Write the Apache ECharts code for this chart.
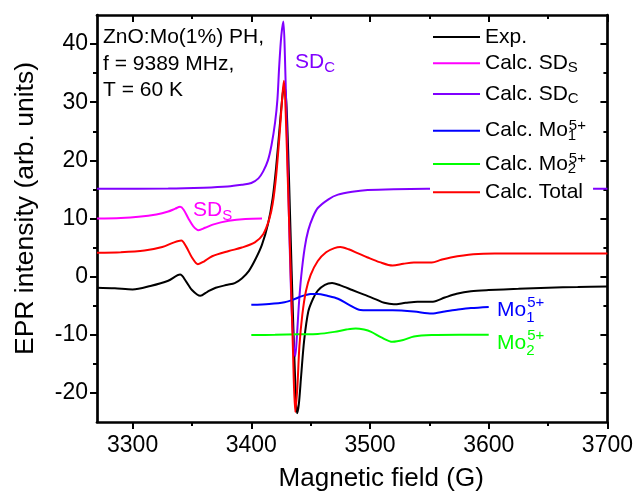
<!DOCTYPE html>
<html>
<head>
<meta charset="utf-8">
<script src="https://cdn.jsdelivr.net/npm/echarts@6/dist/echarts.min.js"></script>
<style>
html, body { margin: 0; padding: 0; background: #fff; }
#chart { width: 636px; height: 497px; }
</style>
</head>
<body>
<div id="chart"></div>
<script>
// Magnetic field (G) / intensity (arb. units)
const expField = [3270, 3285, 3300, 3315, 3330, 3340, 3345, 3350, 3357, 3363, 3370, 3380, 3386, 3392, 3398,
  3404, 3409, 3414, 3418, 3421, 3424, 3426.5, 3428, 3429.5, 3431, 3433, 3435, 3437, 3438.5, 3440, 3442,
  3444.5, 3448, 3452, 3456, 3462, 3468, 3475, 3485, 3495, 3505, 3512, 3520, 3530, 3540, 3553, 3563, 3573,
  3585, 3600, 3625, 3650, 3675, 3700]
const expValue = [-1.9, -2.0, -2.2, -1.6, -0.7, 0.35, -0.8, -2.3, -3.3, -2.6, -1.9, -1.4, -1.1, -0.3, 1.0,
  3.2, 5.5, 9.0, 13.5, 19, 26, 31.5, 32.8, 30, 22, 8, -6, -18, -23.5, -22, -17,
  -11, -6, -3.8, -2.4, -1.4, -1.1, -1.5, -2.3, -3.1, -3.9, -4.5, -4.75, -4.5, -4.3, -4.3, -3.6, -2.95,
  -2.5, -2.3, -2.1, -1.9, -1.8, -1.7]

const sdsField = [3270, 3290, 3305, 3320, 3330, 3336, 3340, 3343, 3347, 3351, 3355.5, 3361, 3367.5, 3381, 3395, 3409]
const sdsValue = [10.0, 10.1, 10.3, 10.7, 11.2, 11.7, 12.0, 11.5, 10.0, 8.7, 8.0, 8.4, 8.95, 9.6, 9.93, 10.0]

const sdcField = [3270, 3330, 3360, 3380, 3392, 3400, 3406, 3410, 3414, 3417, 3420, 3422, 3423.5, 3425.3,
  3427, 3428.3, 3429.8, 3431.5, 3433.2, 3435, 3437, 3438.5, 3440, 3442, 3445, 3448, 3452, 3456, 3465,
  3473, 3485, 3498, 3520, 3548, 3600, 3650, 3700]
const sdcValue = [15.1, 15.15, 15.3, 15.5, 15.8, 16.1, 16.9, 18.1, 20, 22.6, 26.5, 30.5, 36.2, 41.5,
  43.9, 38, 26, 12, -1, -10, -13.7, -10, -5, 0, 5, 8, 10.3, 11.8, 13.3,
  14.1, 14.6, 14.9, 15.05, 15.1, 15.1, 15.1, 15.1]

const mo1Field = [3400, 3415, 3428, 3436, 3442, 3450, 3456, 3464, 3473, 3482, 3492, 3505, 3519, 3537, 3552,
  3563, 3573, 3585, 3600]
const mo1Value = [-4.85, -4.7, -4.4, -3.9, -3.4, -3.0, -2.97, -3.3, -3.8, -4.8, -5.75, -5.8, -5.8, -6.0, -6.35,
  -6.0, -5.7, -5.4, -5.2]

const mo2Field = [3400, 3420, 3440, 3456, 3470, 3480, 3488, 3495, 3501, 3510, 3519, 3528, 3537, 3552, 3575, 3600]
const mo2Value = [-10.05, -10.0, -9.9, -9.85, -9.5, -9.1, -8.9, -9.1, -9.5, -10.5, -11.2, -10.9, -10.3, -10.05,
  -10.0, -10.0]

const totField = [3270, 3290, 3310, 3325, 3335, 3341, 3345, 3350, 3355, 3360, 3367, 3381, 3392, 3403, 3410,
  3415, 3418, 3421, 3424, 3426.3, 3427.5, 3429, 3431, 3433, 3435, 3437, 3438.8, 3440.5, 3443, 3446,
  3450, 3456, 3463, 3470, 3475, 3482, 3490, 3498, 3508, 3519, 3528, 3537, 3552, 3560, 3568, 3587,
  3605, 3625, 3700]
const totValue = [4.1, 4.2, 4.5, 5.1, 5.9, 6.2, 5.2, 3.3, 2.15, 2.6, 3.5, 4.4, 5.0, 5.9, 7.3,
  9.8, 12.5, 17.5, 25, 31.5, 33.7, 28, 15, 2, -12, -23.3, -19, -12, -6.5, -2.5,
  0.3, 2.7, 4.2, 4.9, 5.1, 4.7, 4.0, 3.3, 2.5, 1.9, 2.2, 2.45, 2.45, 2.9, 3.3, 3.85,
  4.0, 4.0, 4.0]

const xTicks = [3300, 3400, 3500, 3600, 3700]
const xMinorTicks = [3350, 3450, 3550, 3650]
const yTicks = [-20, -10, 0, 10, 20, 30, 40]
const yMinorTicks = [-15, -5, 5, 15, 25, 35]

const infoLines = ['ZnO:Mo(1%) PH,', 'f = 9389 MHz,', 'T = 60 K']

const FONT = '"Liberation Sans", Arial, sans-serif'
const C = {
  exp: '#000000',
  sds: '#ff00ff',
  sdc: '#8000ff',
  mo1: '#0000ff',
  mo2: '#00ff00',
  tot: '#ff0000',
}

const zip = (xs, ys) => xs.map((x, i) => [x, ys[i]])

const seriesDefs = [
  { name: 'Exp.', label: '{m|Exp.}', color: C.exp, data: zip(expField, expValue) },
  { name: 'Calc. SDS', label: '{m|Calc. SD}{sb|S}', color: C.sds, data: zip(sdsField, sdsValue) },
  { name: 'Calc. SDC', label: '{m|Calc. SD}{sb|C}', color: C.sdc, data: zip(sdcField, sdcValue) },
  { name: 'Calc. Mo1', label: '{m|Calc. Mo}{sz|1}{sp|5+}', color: C.mo1, data: zip(mo1Field, mo1Value) },
  { name: 'Calc. Mo2', label: '{m|Calc. Mo}{sz|2}{sp|5+}', color: C.mo2, data: zip(mo2Field, mo2Value) },
  { name: 'Calc. Total', label: '{m|Calc. Total}', color: C.tot, data: zip(totField, totValue) },
]
// one legend per row so the rows sit where they do in the figure
const legendRows = [39, 65.3, 96, 130.7, 164, 194.3]

const legendRich = {
  m: { fontSize: 21, lineHeight: 25, fontFamily: FONT, color: '#000' },
  sb: { fontSize: 15, lineHeight: 14, verticalAlign: 'bottom', fontFamily: FONT, color: '#000' },
  sz: { fontSize: 15, lineHeight: 14, verticalAlign: 'bottom', width: 1, fontFamily: FONT, color: '#000' },
  sp: { fontSize: 15, lineHeight: 14, verticalAlign: 'top', fontFamily: FONT, color: '#000' },
}

function labelRich(color, lh) {
  return {
    m: { fontSize: 21, lineHeight: lh, fontFamily: FONT, fill: color },
    sb: { fontSize: 15, lineHeight: 14, verticalAlign: 'bottom', fontFamily: FONT, fill: color },
    sz: { fontSize: 15, lineHeight: 14, verticalAlign: 'bottom', width: 1, fontFamily: FONT, fill: color },
    sp: { fontSize: 15, lineHeight: 14, verticalAlign: 'top', fontFamily: FONT, fill: color },
  }
}

const frame = { lineStyle: { color: '#000', width: 2.7 } }
const tickStyle = { color: '#000', width: 2 }

// major and minor ticks live on separate overlaid axes (different lengths)
function xAxisDef(position, ticks, len, inside, withLine, withLabels) {
  return {
    type: 'value', position, min: 3270, max: 3700,
    axisLine: { show: withLine, onZero: false, ...frame },
    axisTick: { show: true, inside, length: len, customValues: ticks, lineStyle: tickStyle },
    axisLabel: withLabels
      ? { show: true, customValues: ticks, formatter: (v) => String(v), fontSize: 23, color: '#000', fontFamily: FONT, margin: 12 }
      : { show: false },
    splitLine: { show: false },
  }
}
function yAxisDef(position, ticks, len, inside, withLine, withLabels) {
  return {
    type: 'value', position, min: -25, max: 45,
    axisLine: { show: withLine, onZero: false, ...frame },
    axisTick: { show: true, inside, length: len, customValues: ticks, lineStyle: tickStyle },
    axisLabel: withLabels
      ? { show: true, customValues: ticks, formatter: (v) => String(v), fontSize: 23, color: '#000', fontFamily: FONT, margin: 9 }
      : { show: false },
    splitLine: { show: false },
  }
}

const xMain = xAxisDef('bottom', xTicks, 7, false, true, true)
xMain.name = 'Magnetic field (G)'
xMain.nameLocation = 'middle'
xMain.nameGap = 44
xMain.nameTextStyle = { fontSize: 26, color: '#000', fontFamily: FONT, padding: [0, 0, 0, 58] }

const yMain = yAxisDef('left', yTicks, 7, false, true, true)
yMain.name = 'EPR intensity (arb. units)'
yMain.nameLocation = 'middle'
yMain.nameGap = 58
yMain.nameTextStyle = { fontSize: 26.5, color: '#000', fontFamily: FONT, padding: [0, 0, 0, 20] }

const chart = echarts.init(document.getElementById('chart'))
chart.setOption({
  animation: false,
  textStyle: { fontFamily: FONT },
  grid: { left: 97, right: 27, top: 15, bottom: 71 },
  xAxis: [
    xMain,
    xAxisDef('bottom', xMinorTicks, 4, false, false, false),
    xAxisDef('top', xTicks, 7, true, true, false),
    xAxisDef('top', xMinorTicks, 4, true, false, false),
  ],
  yAxis: [
    yMain,
    yAxisDef('left', yMinorTicks, 4, false, false, false),
    yAxisDef('right', yTicks, 7, true, true, false),
    yAxisDef('right', yMinorTicks, 4, true, false, false),
  ],
  legend: seriesDefs.map((s, i) => ({
    data: [s.name],
    selectedMode: false,
    orient: 'vertical',
    left: 430,
    top: legendRows[i] - 14.5,
    padding: [2, 10, 2, 3],
    backgroundColor: '#fff',
    icon: 'rect',
    itemWidth: 47,
    itemHeight: 2,
    formatter: () => s.label,
    textStyle: { rich: legendRich, fontSize: 21, color: '#000' },
  })),
  graphic: [
    {
      type: 'text', x: 103, y: 24, z: 10,
      style: { text: infoLines.join('\n'), fontSize: 21, fontFamily: FONT, lineHeight: 26.5, fill: '#000', verticalAlign: 'top' },
    },
    {
      type: 'text', x: 295, y: 49, z: 10,
      style: { text: '{m|SD}{sb|C}', rich: labelRich(C.sdc, 26), fill: C.sdc, verticalAlign: 'top' },
    },
    {
      type: 'text', x: 193, y: 197.5, z: 10,
      style: { text: '{m|SD}{sb|S}', rich: labelRich(C.sds, 26), fill: C.sds, verticalAlign: 'top' },
    },
    {
      type: 'text', x: 497, y: 295, z: 10,
      style: { text: '{m|Mo}{sz|1}{sp|5+}', rich: labelRich(C.mo1, 30), fill: C.mo1, verticalAlign: 'top' },
    },
    {
      type: 'text', x: 497, y: 328, z: 10,
      style: { text: '{m|Mo}{sz|2}{sp|5+}', rich: labelRich(C.mo2, 30), fill: C.mo2, verticalAlign: 'top' },
    },
  ],
  series: seriesDefs.map((s) => ({
    name: s.name,
    type: 'line',
    data: s.data,
    smooth: 0.3,
    symbol: 'none',
    color: s.color,
    lineStyle: { color: s.color, width: 2 },
  })),
})
</script>
</body>
</html>
